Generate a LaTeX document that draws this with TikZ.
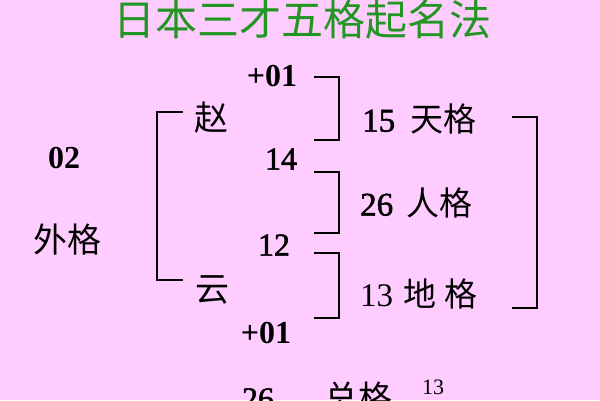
\documentclass[tikz,border=0pt]{standalone}
\usepackage{fontspec}
\setmainfont{Liberation Serif}
\newfontfamily\semib{Liberation Serif}[FakeBold=1.6]
\newfontfamily\cjk{Noto Sans CJK SC}
\usepackage{tikz}
\usetikzlibrary{positioning}
\definecolor{bgpink}{RGB}{255,204,255}
\definecolor{titlegreen}{RGB}{34,150,34}

\begin{document}
\begin{tikzpicture}	[
	x=1pt,y=-1pt,
	num/.style={inner sep=0,font=\fontsize{32}{32}\selectfont\semib},
	bnum/.style={num,font=\fontsize{32}{32}\selectfont\bfseries},
	han/.style={inner sep=0,font=\fontsize{34}{34}\selectfont\cjk},
	ge/.style={inner sep=0,anchor=west,font=\fontsize{33}{33}\selectfont},
	brk/.style={draw,line width=2pt,line cap=rect}
]	
	\fill[bgpink] (0,0) rectangle (600,400);
	\useasboundingbox (0,0) rectangle (600,400);
	\clip (0,0) rectangle (600,400);

	\path
		(302,20) node[inner sep=0,text=titlegreen,font=\fontsize{42}{42}\selectfont\cjk](title){日本三才五格起名法}
		(272,76) node[bnum](top){+01}
		(211,118) node[han](zhao){赵}
		(212,290) node[han](yun){云}
		(64,158) node[bnum](wai){02}
		(67,240) node[han](waige){外格}
		(281,159) node[num](zhaon){14}
		(274,245) node[num](yunn){12}
		(266,333) node[bnum](bot){+01}
	;
	\path
		(362,119) node[ge](tian){{\semib 15}\hspace{15pt}{\cjk 天格}}
		(360,203) node[ge](ren){{\semib 26}\hspace{13pt}{\cjk 人格}}
		(360,294) node[ge](di){13\hspace{10pt}{\cjk 地}\hspace{8pt}{\cjk 格}}
		(258,399) node[num](zong){26}
		(358,398) node[han](zongge){总格}
		(433,387) node[inner sep=0,font=\fontsize{22}{22}\selectfont](zongn){13}
	;
	\draw[brk]
		(182,112) -- (157,112) -- (157,280) -- (182,280)
		(315,77) -- (339,77) -- (339,140) -- (315,140)
		(315,172) -- (339,172) -- (339,233) -- (315,233)
		(315,253) -- (339,253) -- (339,318) -- (315,318)
		(513,117) -- (537,117) -- (537,308) -- (513,308)
	;
\end{tikzpicture}
\end{document}
